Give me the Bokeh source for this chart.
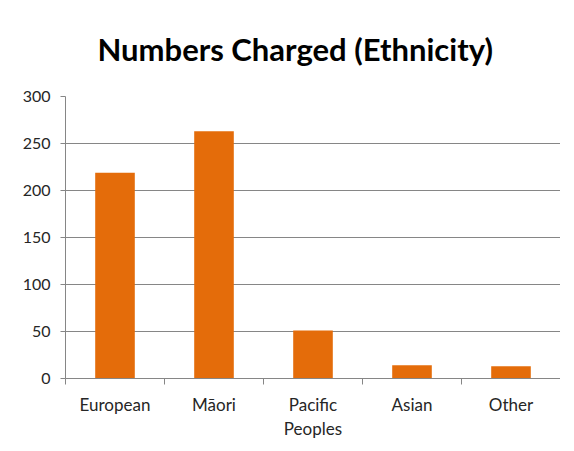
from bokeh.plotting import figure
from bokeh.models import FixedTicker, Range1d, Title
from bokeh.embed import file_html
from bokeh.resources import INLINE

title_text = "Numbers Charged (Ethnicity)"
categories = ["European", "Māori", "Pacific\nPeoples", "Asian", "Other"]
values = [219, 263, 51, 14, 13]
y_ticks = [0, 50, 100, 150, 200, 250, 300]

positions = [i + 1 for i in range(len(categories))]
boundaries = [i + 0.5 for i in range(len(categories) + 1)]

p = figure(width=560, height=441, output_backend="svg", toolbar_location=None,
           x_range=Range1d(0.5, len(categories) + 0.5), y_range=Range1d(0, 300),
           min_border_left=65, min_border_right=0, min_border_top=96, min_border_bottom=59)

p.title = Title(text=title_text, align="left", offset=32, vertical_align="top",
                text_font="Lato", text_font_style="bold", text_font_size="31px",
                text_color="#000000", standoff=54)

p.vbar(x=positions, top=values, width=0.4, fill_color="#E46C0A", line_color=None)

p.outline_line_color = None
p.xgrid.grid_line_color = None
p.ygrid.grid_line_color = "#868686"
p.ygrid.ticker = FixedTicker(ticks=y_ticks)

ya = p.yaxis[0]
ya.ticker = FixedTicker(ticks=y_ticks)
ya.axis_line_color = "#868686"
ya.major_tick_line_color = "#868686"
ya.major_tick_out = 5
ya.major_tick_in = 0
ya.minor_tick_line_color = None
ya.major_label_text_font = "Lato"
ya.major_label_text_font_size = "16px"
ya.major_label_text_color = "#262626"
ya.major_label_standoff = 10

xa = p.xaxis[0]
xa.ticker = FixedTicker(ticks=positions, minor_ticks=boundaries)
xa.major_label_overrides = {pos: cat for pos, cat in zip(positions, categories)}
xa.axis_line_color = "#868686"
xa.major_tick_line_color = None
xa.major_tick_out = 0
xa.major_tick_in = 0
xa.minor_tick_line_color = "#868686"
xa.minor_tick_out = 6
xa.minor_tick_in = 0
xa.major_label_text_font = "Lato"
xa.major_label_text_font_size = "17px"
xa.major_label_text_color = "#262626"
xa.major_label_text_line_height = 1.15
xa.major_label_standoff = 9

open("out.html", "w").write(file_html(p, INLINE))
